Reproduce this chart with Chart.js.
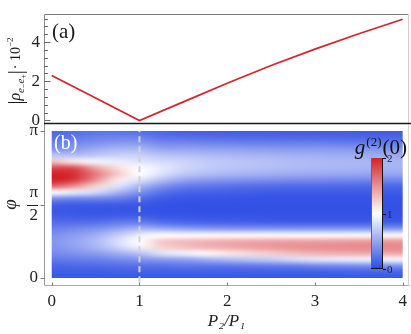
<!DOCTYPE html>
<html>
<head>
<meta charset="utf-8">
<script src="https://cdn.jsdelivr.net/npm/chart.js@4.4.1/dist/chart.umd.min.js"></script>
<style>
  html, body { margin: 0; padding: 0; background: #fff; }
  #wrap { position: relative; width: 411px; height: 334px; overflow: hidden; }
  #wrap canvas { position: absolute; left: 0; }
  #topChart { top: 0; z-index: 2; }
  #botChart { top: 110px; z-index: 1; }
</style>
</head>
<body>
<div id="wrap">
  <canvas id="topChart" width="411" height="130"></canvas>
  <canvas id="botChart" width="411" height="224"></canvas>
</div>
<script>
const SERIF = '"Liberation Serif", "DejaVu Serif", serif';
const X_MIN = -0.088, X_MAX = 4.072;

// panel (a): |rho| * 10^-2 vs P2/P1
const rhoX = [0, 0.5, 1, 1.5, 2, 2.5, 3, 3.5, 4];
const rhoVals = [2.29, 1.15, 0, 0.95, 1.9, 2.8, 3.64, 4.42, 5.16];
const rhoTicks = [0, 2, 4];

// panel (b): g2(0) map, columns = P2/P1, rows = phi / pi (bottom to top)
const xTicks = [0, 1, 2, 3, 4];
const pRatioCols = [0, 0.25, 0.5, 0.75, 1, 1.25, 1.5, 1.75, 2, 2.25, 2.5, 2.75, 3, 3.25, 3.5, 3.75, 4];
const phiRowsPi = [0, 0.0417, 0.0833, 0.125, 0.1667, 0.2083, 0.25, 0.2917, 0.3333, 0.375, 0.4167, 0.4583,
  0.5, 0.5417, 0.5833, 0.625, 0.6667, 0.7083, 0.75, 0.7917, 0.8333, 0.875, 0.9167, 0.9583, 1];
const g2Rows = [
  [0.08,0.08,0.08,0.08,0.08,0.08,0.08,0.08,0.08,0.08,0.08,0.08,0.08,0.08,0.08,0.08,0.08],
  [0.10,0.10,0.10,0.12,0.12,0.12,0.12,0.12,0.12,0.12,0.12,0.12,0.12,0.13,0.14,0.15,0.15],
  [0.15,0.17,0.18,0.20,0.22,0.22,0.25,0.25,0.25,0.27,0.28,0.30,0.35,0.36,0.38,0.39,0.40],
  [0.25,0.28,0.30,0.35,0.40,0.45,0.48,0.55,0.62,0.67,0.72,0.80,0.86,0.89,0.91,0.93,0.95],
  [0.35,0.40,0.45,0.55,0.65,0.85,0.92,1.02,1.10,1.17,1.23,1.29,1.34,1.36,1.37,1.38,1.39],
  [0.40,0.48,0.58,0.75,0.92,1.20,1.27,1.34,1.38,1.42,1.46,1.49,1.51,1.52,1.53,1.54,1.54],
  [0.42,0.50,0.62,0.82,1.00,1.25,1.30,1.34,1.37,1.39,1.41,1.42,1.42,1.43,1.44,1.45,1.45],
  [0.38,0.45,0.55,0.72,0.90,1.00,1.02,1.02,1.02,1.02,1.02,1.02,1.02,1.02,1.02,1.02,1.02],
  [0.30,0.35,0.40,0.50,0.60,0.55,0.50,0.47,0.45,0.45,0.45,0.45,0.45,0.45,0.45,0.45,0.45],
  [0.20,0.20,0.22,0.28,0.30,0.22,0.18,0.16,0.15,0.14,0.13,0.12,0.12,0.12,0.12,0.12,0.12],
  [0.12,0.10,0.10,0.12,0.12,0.08,0.07,0.06,0.06,0.06,0.05,0.05,0.05,0.05,0.05,0.05,0.05],
  [0.08,0.07,0.06,0.06,0.05,0.04,0.04,0.04,0.04,0.04,0.04,0.04,0.04,0.04,0.04,0.04,0.04],
  [0.12,0.10,0.10,0.10,0.08,0.05,0.04,0.04,0.04,0.04,0.04,0.04,0.04,0.04,0.04,0.04,0.04],
  [0.40,0.35,0.35,0.30,0.20,0.10,0.07,0.06,0.06,0.05,0.05,0.05,0.05,0.05,0.05,0.05,0.05],
  [1.00,0.90,0.80,0.60,0.40,0.22,0.15,0.13,0.12,0.11,0.10,0.10,0.10,0.10,0.10,0.10,0.10],
  [1.70,1.50,1.20,0.85,0.60,0.40,0.28,0.25,0.22,0.20,0.19,0.18,0.18,0.17,0.17,0.16,0.16],
  [2.00,1.90,1.50,1.10,0.85,0.65,0.50,0.45,0.42,0.40,0.38,0.37,0.36,0.35,0.34,0.34,0.34],
  [2.00,1.95,1.60,1.25,1.00,0.84,0.70,0.64,0.60,0.58,0.56,0.54,0.53,0.52,0.51,0.50,0.50],
  [1.80,1.80,1.40,1.15,0.98,0.88,0.78,0.72,0.68,0.66,0.64,0.62,0.61,0.60,0.59,0.58,0.58],
  [1.30,1.10,0.95,0.90,0.85,0.80,0.76,0.72,0.69,0.67,0.65,0.63,0.62,0.61,0.60,0.59,0.59],
  [0.70,0.65,0.70,0.75,0.75,0.68,0.66,0.63,0.61,0.59,0.58,0.57,0.56,0.55,0.54,0.54,0.53],
  [0.40,0.45,0.55,0.60,0.60,0.50,0.50,0.49,0.48,0.47,0.46,0.45,0.45,0.44,0.43,0.43,0.42],
  [0.30,0.35,0.40,0.45,0.45,0.35,0.35,0.33,0.32,0.31,0.30,0.30,0.30,0.29,0.28,0.28,0.28],
  [0.20,0.25,0.30,0.32,0.30,0.22,0.20,0.19,0.18,0.17,0.17,0.16,0.16,0.16,0.15,0.15,0.15],
  [0.15,0.20,0.22,0.22,0.20,0.15,0.12,0.11,0.10,0.10,0.10,0.10,0.10,0.10,0.10,0.10,0.10]
];
const phiTicks = [0, Math.PI / 2, Math.PI];
const phiTickLabels = ['0', ['π', '2'], 'π'];
const markerX = 1;
const cbarTicks = [0, 1, 2];

// blue - white - red colour map for g2 in [0, 2]
const g2ColorStops = [[0, [42, 74, 228]], [1, [255, 255, 255]], [2, [211, 33, 40]]];
const g2Color = (v) => {
  const t = Math.min(2, Math.max(0, v));
  for (let i = 0; i < g2ColorStops.length - 1; i++) {
    const [a, ca] = g2ColorStops[i], [b, cb] = g2ColorStops[i + 1];
    if (t <= b) {
      const f = (t - a) / (b - a);
      return ca.map((c, k) => Math.round(c + (cb[k] - c) * f));
    }
  }
  return g2ColorStops[g2ColorStops.length - 1][1];
};

const hline = (ctx, x0, x1, y, color, w) => {
  ctx.strokeStyle = color; ctx.lineWidth = w;
  ctx.beginPath(); ctx.moveTo(x0, y); ctx.lineTo(x1, y); ctx.stroke();
};
const vline = (ctx, x, y0, y1, color, w) => {
  ctx.strokeStyle = color; ctx.lineWidth = w;
  ctx.beginPath(); ctx.moveTo(x, y0); ctx.lineTo(x, y1); ctx.stroke();
};

// draws a list of text pieces (font, dy) one after another on a baseline
const drawPieces = (ctx, pieces, x0, y0) => {
  let x = x0;
  ctx.textBaseline = 'alphabetic'; ctx.textAlign = 'left';
  for (const p of pieces) {
    ctx.font = p.font;
    ctx.fillText(p.t, x, y0 + (p.dy || 0));
    x += ctx.measureText(p.t).width + (p.gap || 0);
  }
};
const piecesWidth = (ctx, pieces) => pieces.reduce((s, p) => {
  ctx.font = p.font; return s + ctx.measureText(p.t).width + (p.gap || 0);
}, 0);

const frameA = {
  id: 'frameA',
  afterDraw(chart) {
    const { ctx, chartArea: a, scales: { y } } = chart;
    const L = Math.round(a.left) + 0.5, R = Math.round(a.right) - 0.5;
    const T = Math.round(a.top) + 0.5, B = Math.round(a.bottom);
    ctx.save();
    hline(ctx, L, R, T, '#7a7a7a', 1);
    vline(ctx, L, T, B, '#8a8a8a', 1);
    vline(ctx, R, T, B, '#cfcfcf', 1);
    hline(ctx, a.left, a.right + 2, B - 0.5, '#1a1a1a', 1.3);
    for (let v = 0; v <= 5.21; v += 0.4) {
      const py = Math.round(y.getPixelForValue(v)) + 0.5;
      const major = rhoTicks.some((t) => Math.abs(t - v) < 1e-6);
      hline(ctx, L, L + (major ? 6 : 3.5), py, '#666', 1);
    }
    ctx.fillStyle = '#1a1a1a';
    ctx.font = '21px ' + SERIF;
    ctx.textBaseline = 'alphabetic';
    ctx.fillText('(a)', a.left + 8, a.top + 24);

    // rotated y label |rho_{e- e+}| . 10^-2
    const it = (s) => 'italic ' + s + 'px ' + SERIF;
    const up = (s) => s + 'px ' + SERIF;
    const pieces = [
      { t: '|', font: up(20), dy: 2 },
      { t: 'ρ', font: it(16) },
      { t: 'e', font: it(11), dy: 4 },
      { t: '−', font: up(8), dy: 6 },
      { t: 'e', font: it(11), dy: 4 },
      { t: '+', font: up(8), dy: 6 },
      { t: '|', font: up(20), dy: 2, gap: 1 },
      { t: '· 10', font: up(14) },
      { t: '−2', font: up(9), dy: -7 }
    ];
    ctx.translate(20, 71);
    ctx.rotate(-Math.PI / 2);
    drawPieces(ctx, pieces, -piecesWidth(ctx, pieces) / 2, 0);
    ctx.restore();
  }
};

const heatmap = {
  id: 'heatmap',
  beforeDatasetsDraw(chart) {
    const { ctx, scales: { x, y } } = chart;
    const nC = pRatioCols.length, nR = phiRowsPi.length;
    const off = document.createElement('canvas');
    off.width = nC; off.height = nR;
    const octx = off.getContext('2d');
    const img = octx.createImageData(nC, nR);
    for (let r = 0; r < nR; r++) {
      for (let c = 0; c < nC; c++) {
        const col = g2Color(g2Rows[r][c]);
        const i = ((nR - 1 - r) * nC + c) * 4;
        img.data[i] = col[0]; img.data[i + 1] = col[1]; img.data[i + 2] = col[2]; img.data[i + 3] = 255;
      }
    }
    octx.putImageData(img, 0, 0);
    const dx = (pRatioCols[nC - 1] - pRatioCols[0]) / (nC - 1);
    const dphi = Math.PI * (phiRowsPi[nR - 1] - phiRowsPi[0]) / (nR - 1);
    const phiLo = Math.PI * phiRowsPi[0], phiHi = Math.PI * phiRowsPi[nR - 1];
    const left = x.getPixelForValue(pRatioCols[0] - dx / 2);
    const right = x.getPixelForValue(pRatioCols[nC - 1] + dx / 2);
    const top = y.getPixelForValue(phiHi + dphi / 2);
    const bottom = y.getPixelForValue(phiLo - dphi / 2);
    const cx0 = x.getPixelForValue(pRatioCols[0]), cx1 = x.getPixelForValue(pRatioCols[nC - 1]);
    const cy0 = y.getPixelForValue(phiHi), cy1 = y.getPixelForValue(phiLo);
    ctx.save();
    ctx.beginPath();
    ctx.rect(cx0, cy0, cx1 - cx0, cy1 - cy0);
    ctx.clip();
    ctx.imageSmoothingEnabled = true;
    ctx.imageSmoothingQuality = 'high';
    ctx.drawImage(off, left, top, right - left, bottom - top);
    ctx.restore();
  }
};

const frameB = {
  id: 'frameB',
  afterDraw(chart) {
    const { ctx, chartArea: a, scales: { x, y } } = chart;
    const L = Math.round(a.left) + 0.5, R = Math.round(a.right) - 0.5;
    const T = Math.round(a.top), B = Math.round(a.bottom) + 0.5;
    ctx.save();
    vline(ctx, L, T, B, '#999', 1);
    hline(ctx, L, R + 1, B, '#aaa', 1);
    vline(ctx, R, T, B, '#d6d6d6', 1);
    // tick marks
    for (const v of phiTicks) {
      const py = Math.round(y.getPixelForValue(v)) + 0.5;
      hline(ctx, L - 4, L, py, '#777', 1);
    }
    for (const v of xTicks) {
      const px = Math.round(x.getPixelForValue(v)) + 0.5;
      vline(ctx, px, B - 3, B, '#777', 1);
    }
    // fraction bar for pi/2
    const pyh = Math.round(y.getPixelForValue(Math.PI / 2)) + 0.5;
    hline(ctx, a.left - 17, a.left - 6, pyh, '#222', 1);

    // (b) label
    ctx.fillStyle = '#fff';
    ctx.font = '20px ' + SERIF;
    ctx.textBaseline = 'alphabetic';
    ctx.fillText('(b)', a.left + 10, a.top + 25);

    // colour bar
    const cbL = Math.round(a.right) - 38, cbR = Math.round(a.right) - 26;
    const cbT = Math.round(a.top) + 34, cbB = Math.round(a.top) + 145;
    const grad = ctx.createLinearGradient(0, cbB, 0, cbT);
    for (const [v, c] of g2ColorStops) grad.addColorStop(v / 2, `rgb(${c.join(',')})`);
    ctx.fillStyle = grad;
    ctx.fillRect(cbL, cbT, cbR - cbL, cbB - cbT);
    vline(ctx, cbL + 0.5, cbT, cbB, '#666', 1);
    vline(ctx, cbR - 0.5, cbT, cbB, '#111', 1);
    hline(ctx, cbL, cbR, cbB - 0.5, '#111', 1);
    ctx.fillStyle = '#222';
    ctx.font = '11px ' + SERIF;
    ctx.textBaseline = 'middle';
    for (const v of cbarTicks) {
      const py = Math.round(cbB - (cbB - cbT) * v / 2) + 0.5;
      hline(ctx, cbR, cbR + 3, py, '#111', 1);
      ctx.fillText(String(v), cbR + 4, py + 0.5);
    }
    const pieces = [
      { t: 'g', font: 'italic 21px ' + SERIF, gap: 1 },
      { t: '(2)', font: '13px ' + SERIF, dy: -8, gap: 1 },
      { t: '(0)', font: '21px ' + SERIF }
    ];
    ctx.fillStyle = '#111';
    drawPieces(ctx, pieces, a.right - piecesWidth(ctx, pieces) - 2, a.top + 30);
    ctx.restore();
  }
};

new Chart(document.getElementById('topChart'), {
  type: 'line',
  data: {
    datasets: [{
      data: rhoX.map((x, i) => ({ x, y: rhoVals[i] })),
      borderColor: '#d6232b',
      borderWidth: 1.7,
      pointRadius: 0,
      tension: 0
    }]
  },
  options: {
    responsive: false,
    animation: false,
    layout: { padding: { top: 14, right: 2, bottom: 6, left: 0 } },
    plugins: { legend: { display: false }, tooltip: { enabled: false } },
    scales: {
      x: { type: 'linear', min: X_MIN, max: X_MAX, display: false },
      y: {
        type: 'linear', min: -0.18, max: 5.43,
        afterBuildTicks: (s) => { s.ticks = rhoTicks.map((v) => ({ value: v })); },
        afterFit: (s) => { s.width = 44; s.paddingTop = 0; s.paddingBottom = 0; },
        grid: { display: false, drawTicks: false },
        border: { display: false },
        ticks: { padding: 4, color: '#222', font: { family: SERIF, size: 17 } }
      }
    }
  },
  plugins: [frameA]
});

new Chart(document.getElementById('botChart'), {
  type: 'scatter',
  data: {
    datasets: [{
      data: [{ x: markerX, y: -0.09 }, { x: markerX, y: Math.PI }],
      showLine: true,
      borderColor: '#d2d2d2',
      borderWidth: 2,
      borderDash: [6, 4],
      pointRadius: 0
    }]
  },
  options: {
    responsive: false,
    animation: false,
    layout: { padding: { top: 14, right: 2, bottom: 0, left: 0 } },
    plugins: { legend: { display: false }, tooltip: { enabled: false } },
    scales: {
      x: {
        type: 'linear', min: X_MIN, max: X_MAX,
        afterBuildTicks: (s) => { s.ticks = xTicks.map((v) => ({ value: v })); },
        afterFit: (s) => { s.height = 49; s.paddingLeft = 0; s.paddingRight = 0; },
        grid: { display: false, drawTicks: false },
        border: { display: false },
        ticks: { padding: 6, maxRotation: 0, color: '#222', font: { family: SERIF, size: 17 } },
        title: {
          display: true, text: 'P₂/P₁', color: '#222',
          font: { family: SERIF, size: 17, style: 'italic' },
          padding: { top: 0, bottom: 2 }
        }
      },
      y: {
        type: 'linear', min: -0.15, max: Math.PI + 0.15,
        afterBuildTicks: (s) => { s.ticks = phiTicks.map((v) => ({ value: v })); },
        afterFit: (s) => { s.width = 44; s.paddingTop = 0; s.paddingBottom = 0; },
        grid: { display: false, drawTicks: false },
        border: { display: false },
        ticks: {
          padding: 6, crossAlign: 'center', color: '#222',
          font: { family: SERIF, size: 17, lineHeight: 1.35 },
          callback: (v, i) => phiTickLabels[i]
        },
        title: {
          display: true, text: 'φ', color: '#222',
          font: { family: SERIF, size: 19, style: 'italic' },
          padding: { top: 0, bottom: 0 }
        }
      }
    }
  },
  plugins: [heatmap, frameB]
});
</script>
</body>
</html>
